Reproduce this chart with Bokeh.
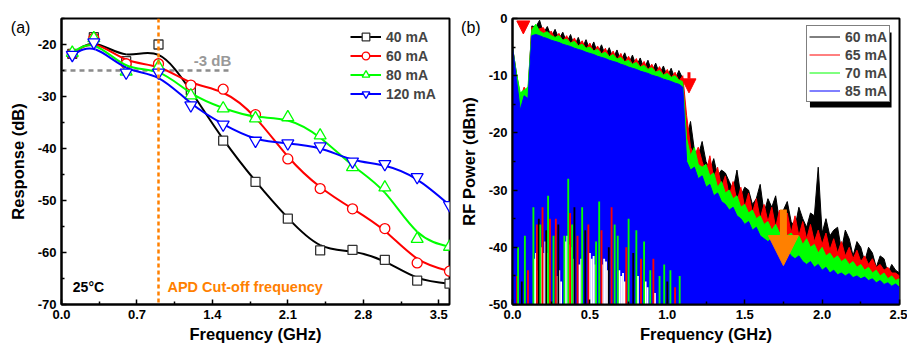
import numpy as np
from bokeh.plotting import figure
from bokeh.layouts import row
from bokeh.models import (Range1d, FixedTicker, PrintfTickFormatter, Legend, LegendItem,
                          Span, Label, Arrow, NormalHead, BoxAnnotation, ColumnDataSource)
from bokeh.embed import file_html
from bokeh.resources import INLINE

FONT = "Liberation Sans"

# ---------------- panel (a) data ----------------
freq_a = [0.1, 0.3, 0.6, 0.9, 1.2, 1.5, 1.8, 2.1, 2.4, 2.7, 3.0, 3.3, 3.6]
resp_40 = [-21.8, -18.6, -23.2, -20.0, -28.8, -38.5, -46.4, -53.5, -59.6, -59.5, -61.4, -65.4, -66.0]
resp_60 = [-21.8, -18.8, -23.7, -23.7, -27.8, -28.6, -33.5, -42.0, -47.7, -51.6, -55.4, -62.0, -63.6]
resp_80 = [-21.6, -18.8, -25.2, -24.3, -29.8, -32.3, -34.2, -34.0, -37.5, -43.6, -47.5, -57.4, -58.9]
resp_120 = [-22.0, -19.6, -25.4, -25.4, -31.7, -35.4, -38.5, -39.0, -39.6, -42.5, -43.0, -45.5, -50.9]
labels_a = ["40 mA", "60 mA", "80 mA", "120 mA"]
xticks_a = [0.0, 0.7, 1.4, 2.1, 2.8, 3.5]
yticks_a = [-70, -60, -50, -40, -30, -20]
cutoff_freq = 0.9
minus3db_level = -25.0
minus3db_end = 1.58

# ---------------- panel (b) data ----------------
freq_b = [round(0.025 * i, 3) for i in range(101)]
power_60 = [-5, -9.5, -13.5, -14, -13,
            -1.3, -1.5, -0.3, -2.6, -1.4, -3.2, -1.9, -3.6, -2.4, -4.2, -2.8, -4.8, -3.3, -5.2, -3.7,
            -5.6, -4.1, -6.1, -4.6, -6.5, -5.1, -7.0, -5.5, -7.5, -6.0, -7.9, -6.4, -8.4, -6.9, -8.8,
            -7.3, -9.3, -7.8, -9.7, -8.3, -10.2, -8.7, -10.6, -9.1, -10.5,
            -21.0, -18.0, -23.0, -24.0, -21.5, -25.0, -26.5, -24.5, -27.5, -26.5, -27.0, -28.5, -30.0,
            -26.5, -31.0, -29.5, -30.0, -32.5, -31.5, -29.0, -34.0, -31.5, -33.0, -31.0, -35.5, -33.5,
            -32.0, -35.5, -36.5, -33.0, -35.0, -36.5, -34.0, -34.5, -26.0, -37.5, -35.0, -38.0, -37.0,
            -36.5, -40.5, -37.0, -38.5, -41.5, -39.0, -40.0, -42.5, -40.0, -41.0, -43.5, -41.5, -42.0,
            -44.5, -43.0, -44.0, -44.5]
power_65 = [-5, -10, -14, -12, -13.5,
            -1.5, -2.2, -1.8, -1.6, -3.0, -2.2, -3.6, -2.6, -4.0, -3.0, -4.5, -3.4, -4.9, -3.9, -5.4,
            -4.3, -5.9, -4.8, -6.3, -5.2, -6.8, -5.7, -7.2, -6.1, -7.7, -6.6, -8.1, -7.0, -8.6, -7.5,
            -9.0, -8.0, -9.5, -8.4, -10.0, -8.9, -10.4, -9.4, -10.9, -10.0,
            -17.0, -22.5, -24.0, -22.5, -25.0, -27.0, -24.0, -28.0, -26.0, -29.5, -27.5, -31.0, -28.5,
            -32.0, -29.5, -33.0, -30.5, -34.0, -31.5, -35.0, -32.5, -35.5, -33.0, -36.5, -33.5, -37.0,
            -34.0, -37.5, -34.5, -38.0, -35.5, -38.5, -36.0, -39.0, -37.0, -39.5, -37.5, -40.5, -38.5,
            -41.0, -39.0, -41.5, -40.0, -42.0, -40.5, -42.5, -41.5, -43.0, -42.0, -43.5, -43.0, -44.0,
            -43.5, -44.5, -44.5, -45.0]
power_70 = [-5, -9.5, -13, -12.5, -12,
            -2.0, -1.0, -2.2, -2.6, -2.3, -3.0, -3.3, -3.0, -3.8, -3.6, -4.3, -4.0, -4.8, -4.5, -5.2,
            -5.0, -5.7, -5.4, -6.2, -5.9, -6.7, -6.3, -7.1, -6.8, -7.6, -7.3, -8.0, -7.7, -8.5, -8.2,
            -8.9, -8.6, -9.4, -9.1, -9.9, -9.6, -10.3, -10.0, -10.8, -11.0,
            -21.0, -24.0, -22.5, -25.5, -26.0, -25.5, -27.5, -27.0, -29.5, -28.5, -30.5, -30.0, -31.5,
            -31.0, -33.0, -32.5, -34.0, -33.5, -35.0, -34.5, -36.0, -35.5, -37.0, -36.0, -37.5, -36.5,
            -38.0, -37.5, -38.5, -38.0, -39.5, -38.5, -40.0, -39.5, -41.0, -40.0, -41.5, -41.0, -42.0,
            -41.5, -42.5, -42.0, -43.0, -42.5, -43.5, -43.0, -44.0, -43.5, -44.5, -44.0, -45.0, -44.5,
            -45.5, -45.0, -45.8, -45.5]
power_85 = [-5, -10.5, -16, -13.5, -14,
            -3.0, -2.8, -3.0, -3.3, -3.5, -3.8, -4.0, -4.2, -4.5, -4.7, -4.9, -5.2, -5.4, -5.6, -5.9,
            -6.1, -6.3, -6.6, -6.8, -7.0, -7.3, -7.5, -7.7, -8.0, -8.2, -8.5, -8.7, -8.9, -9.2, -9.4,
            -9.6, -9.9, -10.1, -10.3, -10.6, -10.8, -11.0, -11.3, -11.5, -12.0,
            -25.0, -26.5, -26.0, -28.0, -27.5, -29.5, -29.0, -31.0, -30.5, -32.0, -32.5, -33.5, -33.0,
            -34.5, -35.0, -36.0, -35.5, -37.0, -36.5, -38.0, -38.5, -39.0, -38.5, -40.0, -39.5, -41.0,
            -40.5, -41.5, -42.0, -41.5, -42.5, -43.0, -42.5, -43.5, -43.0, -44.0, -43.5, -44.5, -44.0,
            -44.8, -44.5, -45.0, -44.6, -45.3, -45.0, -45.5, -45.2, -45.8, -45.5, -46.2, -45.8, -46.5,
            -46.2, -46.8, -46.4, -47.0]
labels_b = ["60 mA", "65 mA", "70 mA", "85 mA"]
# columns in the low band where the 85 mA trace does not reach the floor:
# frequency, level up to which it is absent, and which trace (if any) shows there
gap_freq = [0.14, 0.152, 0.164, 0.188, 0.2, 0.212, 0.224, 0.236, 0.29, 0.302, 0.314,
            0.342, 0.354, 0.366, 0.378, 0.39, 0.432, 0.444, 0.5, 0.512, 0.524, 0.536,
            0.58, 0.592, 0.604, 0.616, 0.69, 0.702, 0.714, 0.726, 0.81, 0.86, 0.872, 0.92,
            0.03, 0.036, 0.06, 0.08, 0.1, 0.135, 0.158, 0.17, 0.18, 0.194, 0.218, 0.23, 0.242,
            0.265, 0.28, 0.296, 0.335, 0.36, 0.372, 0.385, 0.4, 0.42, 0.45, 0.47, 0.49, 0.54,
            0.56, 0.575, 0.622, 0.64, 0.66, 0.68, 0.735, 0.75, 0.78, 0.8, 0.83, 0.85, 0.89,
            0.91, 0.95, 0.98, 1.0, 1.02, 1.05, 1.08]
gap_level = [-42, -41, -44, -40, -41, -39, -41, -43, -45, -44, -46,
             -39, -38, -39.5, -40, -42, -43, -42, -41, -42, -41.5, -43,
             -43, -42, -42.5, -44, -44, -45, -44.5, -46, -45, -46, -47, -48,
             -45, -40, -46, -38, -44, -33, -36, -35, -36, -33, -37, -31, -35,
             -38, -35, -36, -38, -28, -34, -36, -33, -38, -33, -37, -36, -39,
             -32, -37, -40, -33, -36, -38, -40, -35, -41, -37, -42, -39, -44,
             -42, -45, -43, -46, -44, -47, -45]
gap_trace = (["none"] * 34 +
             ["65 mA", "70 mA", "60 mA", "70 mA", "65 mA", "70 mA", "65 mA", "60 mA", "70 mA",
              "65 mA", "60 mA", "70 mA", "65 mA", "70 mA", "65 mA", "60 mA", "70 mA", "70 mA",
              "65 mA", "70 mA", "60 mA", "65 mA", "70 mA", "60 mA", "65 mA", "70 mA", "70 mA",
              "65 mA", "60 mA", "65 mA", "70 mA", "70 mA", "65 mA", "70 mA", "60 mA", "70 mA",
              "65 mA", "70 mA", "70 mA", "65 mA", "70 mA", "70 mA", "60 mA", "70 mA", "65 mA",
              "70 mA"])
xticks_b = [0.0, 0.5, 1.0, 1.5, 2.0, 2.5]
yticks_b = [-50, -40, -30, -20, -10, 0]
floor_b = -50
# arrows (frequency, start level, end level)
arrow_low = (0.07, -0.6, -2.7)
arrow_edge = (1.14, -9.4, -13.0)
arrow_tail = (1.75, -33.4, -43.2)


def bspline_bezier(xs, ys):
    """Uniform cubic B-spline with the data as control points -> Bezier segments."""
    x = np.asarray(xs, float)
    y = np.asarray(ys, float)
    px = np.concatenate([[2 * x[0] - x[1]], x, [2 * x[-1] - x[-2]]])
    py = np.concatenate([[2 * y[0] - y[1]], y, [2 * y[-1] - y[-2]]])
    out = {k: [] for k in ("x0", "y0", "x1", "y1", "cx0", "cy0", "cx1", "cy1")}
    for j in range(1, len(x)):
        for p, k in ((px, "x"), (py, "y")):
            p0, p1, p2, p3 = p[j - 1], p[j], p[j + 1], p[j + 2]
            out[k + "0"].append((p0 + 4 * p1 + p2) / 6)
            out["c" + k + "0"].append((2 * p1 + p2) / 3)
            out["c" + k + "1"].append((p1 + 2 * p2) / 3)
            out[k + "1"].append((p1 + 4 * p2 + p3) / 6)
    return out


def style(p, xticks, xminor, yticks, yminor, xfmt, yfmt, xlabel, ylabel):
    p.xgrid.visible = False
    p.ygrid.visible = False
    p.outline_line_color = "black"
    p.outline_line_width = 2
    p.background_fill_color = "white"
    p.border_fill_color = "white"
    for ax, ticks, minor, fmt, lab in ((p.xaxis[0], xticks, xminor, xfmt, xlabel),
                                       (p.yaxis[0], yticks, yminor, yfmt, ylabel)):
        ax.ticker = FixedTicker(ticks=ticks, minor_ticks=minor)
        ax.formatter = PrintfTickFormatter(format=fmt)
        ax.axis_label = lab
        ax.axis_label_text_font = FONT
        ax.axis_label_text_font_style = "bold"
        ax.axis_label_text_font_size = "16.5px"
        ax.major_label_text_font = FONT
        ax.major_label_text_font_style = "bold"
        ax.major_label_text_font_size = "13px"
        ax.major_label_text_color = "black"
        ax.axis_label_text_color = "black"
        ax.axis_line_width = 2
        ax.major_tick_in = 5
        ax.major_tick_out = 0
        ax.minor_tick_in = 3
        ax.minor_tick_out = 0
        ax.major_tick_line_width = 1.5
        ax.minor_tick_line_width = 1.5
        ax.major_label_standoff = 5
    p.xaxis[0].axis_label_standoff = 3
    p.yaxis[0].axis_label_standoff = 8


def panel_tag(text, x, y):
    # lives in the top side panel (so it is not clipped to the frame); small enough
    # that this panel stays within the 18 px top border
    return Label(x=x, y=y, text=text, text_color="black", text_font=FONT, text_font_size="16px",
                 text_baseline="middle")


# ================= panel (a) =================
pa = figure(width=456, height=346, x_range=Range1d(0, 3.6), y_range=Range1d(-70, -15),
            output_backend="svg", toolbar_location=None,
            min_border_left=61, min_border_right=7, min_border_top=18, min_border_bottom=42)
style(pa, xticks_a, [0.35, 1.05, 1.75, 2.45, 3.15], yticks_a, [-65, -55, -45, -35, -25, -15],
      "%.1f", "%d", "Frequency (GHz)", "Response (dB)")

pa.add_layout(Span(location=cutoff_freq, dimension="height", line_color="#ff8000",
                   line_width=2.5, line_dash="4 3"))
pa.line([0, minus3db_end], [minus3db_level, minus3db_level], line_color="#8c8c8c",
        line_width=2.5, line_dash="5 4")

series_a = [(resp_40, "black", "#333333", "square", 9), (resp_60, "red", "red", "circle", 10),
            (resp_80, "#00ff00", "#00ff00", "triangle", 12),
            (resp_120, "blue", "blue", "inverted_triangle", 12)]
items_a = []
for (vals, col, mcol, mk, sz), lab in zip(series_a, labels_a):
    bz = bspline_bezier(freq_a, vals)
    rl = pa.bezier(line_color=col, line_width=2, **bz)
    rm = pa.scatter(freq_a, vals, marker=mk, size=sz, line_color=mcol, line_width=1.3,
                    fill_color="white")
    items_a.append(LegendItem(label=lab, renderers=[rl, rm]))

leg_a = Legend(items=items_a, location=(289, 201), padding=0, spacing=0, glyph_width=31,
               glyph_height=19, label_height=19, label_standoff=5, border_line_color=None,
               background_fill_alpha=0, label_text_font=FONT, label_text_font_style="bold",
               label_text_font_size="14px", margin=0)
pa.add_layout(leg_a, "center")

txt = dict(text_font=FONT, text_font_style="bold", text_baseline="middle")
pa.add_layout(Label(x=1.227, y=-23.1, text="-3 dB", text_color="#999999", text_font_size="15px", **txt))
pa.add_layout(Label(x=0.983, y=-66.7, text="APD Cut-off frequency", text_color="#ff8000",
                    text_font_size="14.5px", **txt))
pa.add_layout(Label(x=0.105, y=-66.7, text="25°C", text_color="black", text_font_size="14px", **txt))
pa.add_layout(panel_tag("(a)", -0.47, -16.7), "above")

# ================= panel (b) =================
pb = figure(width=451, height=346, x_range=Range1d(0, 2.5), y_range=Range1d(-50, 0),
            output_backend="svg", toolbar_location=None,
            min_border_left=54, min_border_right=8, min_border_top=18, min_border_bottom=42)
style(pb, xticks_b, [0.25, 0.75, 1.25, 1.75, 2.25], yticks_b, [-45, -35, -25, -15, -5],
      "%.1f", "%d", "Frequency (GHz)", "RF Power (dBm)")

colors_b = dict(zip(labels_b, ["black", "red", "#00ff00", "blue"]))
items_b = []
for vals, lab in zip([power_60, power_65, power_70, power_85], labels_b):
    col = colors_b[lab]
    pb.varea(x=freq_b, y1=floor_b, y2=vals, fill_color=col)
    rl = pb.line(freq_b, vals, line_color=col, line_width=1)
    items_b.append(LegendItem(label=lab, renderers=[rl]))

gap_src = ColumnDataSource(dict(x=gap_freq, top=gap_level,
                                color=[colors_b.get(t, "white") for t in gap_trace]))
pb.vbar(x="x", bottom=floor_b, top="top", width=0.012, source=gap_src, fill_color="color",
        line_color=None)

for (f, y0, y1), col, sz, lw in ((arrow_low, "red", 13, 3), (arrow_edge, "red", 14, 3),
                                 (arrow_tail, "#ff8000", 30, 7)):
    pb.add_layout(Arrow(x_start=f, y_start=y0, x_end=f, y_end=y1, line_color=col, line_width=lw,
                        end=NormalHead(size=sz, fill_color=col, line_color=col, line_width=1)))

# legend with drop shadow
LEG_X, LEG_Y, LEG_W, LEG_H, SH = 294, 202, 83, 75, 5
fw, fh = 389, 286
xs_per_px = 2.5 / fw
ys_per_px = 50 / fh
pb.add_layout(BoxAnnotation(left=(LEG_X + SH) * xs_per_px, right=(LEG_X + LEG_W + SH - 1) * xs_per_px,
                            bottom=floor_b + (LEG_Y - SH) * ys_per_px,
                            top=floor_b + (LEG_Y + LEG_H - SH) * ys_per_px,
                            fill_color="black", fill_alpha=1, line_color=None))
leg_b = Legend(items=items_b, location=(LEG_X, LEG_Y), padding=2, spacing=1, glyph_width=31,
               glyph_height=17, label_height=17, label_standoff=5, border_line_color="black",
               border_line_width=1, background_fill_color="white", background_fill_alpha=1,
               label_text_font=FONT, label_text_font_style="bold", label_text_font_size="14px",
               margin=0)
pb.add_layout(leg_b, "center")
pb.add_layout(panel_tag("(b)", -0.332, -1.5), "above")

layout = row(pa, pb)
open("out.html", "w").write(file_html(layout, INLINE))
